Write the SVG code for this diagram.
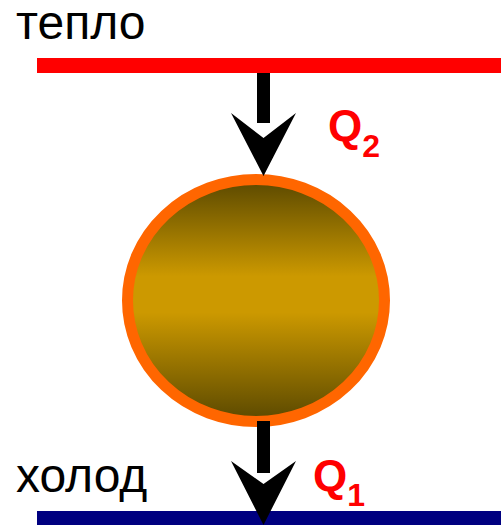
<svg xmlns="http://www.w3.org/2000/svg" width="501" height="525" viewBox="0 0 501 525">
<defs>
<linearGradient id="g" x1="0" y1="0" x2="0" y2="1">
<stop offset="0" stop-color="#5a4800"/>
<stop offset="0.4" stop-color="#cc9900"/>
<stop offset="0.55" stop-color="#cc9900"/>
<stop offset="1" stop-color="#5a4800"/>
</linearGradient>
</defs>
<style>
.lbl{font-family:"Liberation Sans",Arial,sans-serif;font-size:48px;fill:#000}
.q{font-family:"Liberation Sans",Arial,sans-serif;font-weight:bold;fill:#ff0000}
</style>
<g id="hot">
<rect x="37" y="58" width="464" height="15" fill="#ff0000"/>
<text class="lbl" x="16" y="39">тепло</text>
</g>
<g id="cold">
<rect x="37" y="511" width="464" height="14" fill="#000080"/>
<text class="lbl" x="16" y="492">холод</text>
</g>
<g id="body">
<ellipse cx="256" cy="300.5" rx="128.5" ry="121" fill="url(#g)" stroke="#ff6600" stroke-width="11"/>
</g>
<g id="connectors">
<rect x="257" y="73" width="13" height="50"/>
<polygon points="231,113 263.5,138 296,113 263.5,176"/>
<rect x="257" y="421" width="13" height="52"/>
<polygon points="231,461 263.5,484 296,461 263.5,525"/>
</g>
<g id="labels">
<text class="q" x="328" y="141" font-size="44">Q<tspan font-size="32" y="157">2</tspan></text>
<text class="q" x="313" y="491" font-size="44">Q<tspan font-size="32" y="506">1</tspan></text>
</g>
</svg>
